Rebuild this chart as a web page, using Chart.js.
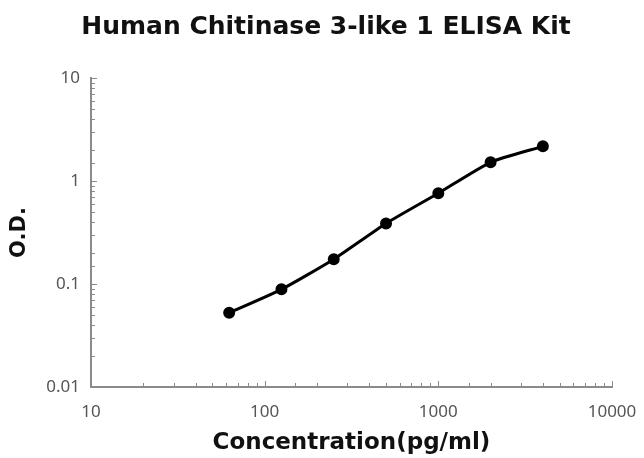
<!DOCTYPE html>
<html>
<head>
<meta charset="utf-8">
<script src="https://cdn.jsdelivr.net/npm/chart.js@4"></script>
<style>
  html, body { margin: 0; padding: 0; background: #fff; }
  #wrap { width: 644px; height: 458px; }
</style>
</head>
<body>
<div id="wrap"><canvas id="chart"></canvas></div>
<script>
// standard curve data
const concentrations = [62.5, 125, 250, 500, 1000, 2000, 4000];
const odValues = [0.0525, 0.0887, 0.174, 0.387, 0.76, 1.52, 2.17];
const xTickLabels = [10, 100, 1000, 10000];
const yTickLabels = [0.01, 0.1, 1, 10];

const points = concentrations.map((c, i) => ({ x: c, y: odValues[i] }));

// small inward tick marks on both log axes
const innerTicks = {
  id: 'innerTicks',
  afterDraw(chart) {
    const ctx = chart.ctx;
    const area = chart.chartArea;
    ctx.save();
    ctx.strokeStyle = '#8a8a8a';
    ctx.lineWidth = 1;
    const xs = chart.scales.x;
    xs.ticks.forEach(t => {
      const px = Math.round(xs.getPixelForValue(t.value)) + 0.5;
      const major = xTickLabels.includes(t.value);
      ctx.beginPath();
      ctx.moveTo(px, area.bottom);
      ctx.lineTo(px, area.bottom - (major ? 6 : 4));
      ctx.stroke();
    });
    const ys = chart.scales.y;
    ys.ticks.forEach(t => {
      const py = Math.round(ys.getPixelForValue(t.value)) + 0.5;
      const major = yTickLabels.some(v => Math.abs(v - t.value) < 1e-9);
      ctx.beginPath();
      ctx.moveTo(area.left, py);
      ctx.lineTo(area.left + (major ? 6 : 4), py);
      ctx.stroke();
    });
    ctx.restore();
  }
};

new Chart(document.getElementById('chart'), {
  type: 'scatter',
  data: {
    datasets: [{
      data: points,
      showLine: true,
      borderColor: '#000',
      backgroundColor: '#000',
      borderWidth: 3,
      pointRadius: 4.5,
      pointHoverRadius: 4.5,
      tension: 0.2
    }]
  },
  options: {
    responsive: true,
    maintainAspectRatio: false,
    animation: false,
    layout: { padding: { left: 8, right: 0, top: 0, bottom: 0 } },
    plugins: {
      legend: { display: false },
      tooltip: { enabled: false },
      title: {
        display: true,
        text: 'Human Chitinase 3-like 1 ELISA Kit',
        color: '#111',
        font: { family: 'DejaVu Sans', size: 25, weight: 'bold' },
        padding: { top: 12, bottom: 36 }
      }
    },
    scales: {
      x: {
        type: 'logarithmic',
        min: 10,
        max: 10000,
        afterFit: s => { s.paddingRight = 32; },
        grid: { display: false, drawTicks: false },
        border: { display: true, color: '#8a8a8a', width: 2 },
        ticks: {
          autoSkip: false,
          maxRotation: 0,
          padding: 15,
          color: '#555',
          font: { family: 'Noto Sans', size: 17 },
          callback: v => xTickLabels.includes(v) ? String(v) : ''
        },
        title: {
          display: true,
          text: 'Concentration(pg/ml)',
          color: '#111',
          font: { family: 'DejaVu Sans', size: 23, weight: 'bold' },
          padding: { top: -8, bottom: 1 }
        }
      },
      y: {
        type: 'logarithmic',
        min: 0.01,
        max: 10,
        grid: { display: false, drawTicks: false },
        border: { display: true, color: '#8a8a8a', width: 2 },
        ticks: {
          autoSkip: false,
          padding: 11,
          color: '#555',
          font: { family: 'Noto Sans', size: 17 },
          callback: v => yTickLabels.some(t => Math.abs(t - v) < 1e-9) ? String(v) : ''
        },
        title: {
          display: true,
          text: 'O.D.',
          color: '#111',
          font: { family: 'DejaVu Sans', size: 21, weight: 'bold' },
          padding: { top: -1, bottom: 3 }
        }
      }
    }
  },
  plugins: [innerTicks]
});
</script>
</body>
</html>
